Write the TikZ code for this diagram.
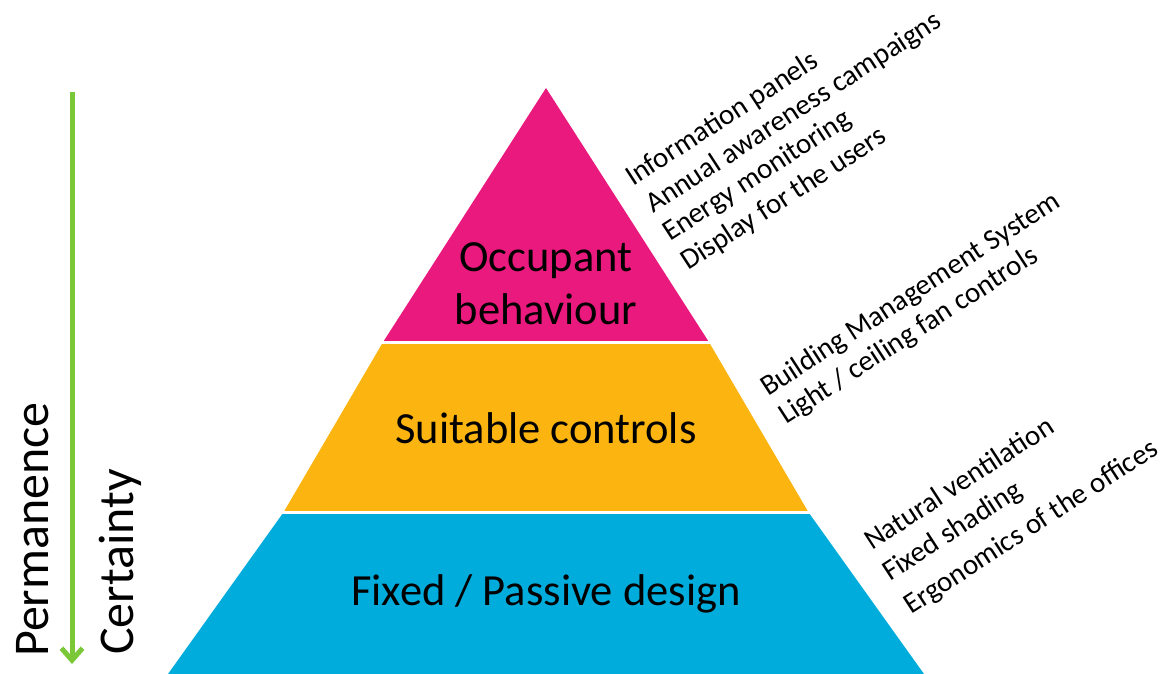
\documentclass[tikz,border=0pt]{standalone}
\usepackage{fontspec}
\setmainfont{Carlito}
\usetikzlibrary{arrows.meta}
\definecolor{pinkc}{RGB}{233,25,125}
\definecolor{yellowc}{RGB}{252,181,16}
\definecolor{bluec}{RGB}{0,172,220}
\definecolor{greenc}{RGB}{122,200,55}
\tikzset{
  big/.style={font=\fontsize{44.5}{53}\selectfont, align=center, inner sep=0pt},
  side/.style={font=\fontsize{50}{60}\selectfont, rotate=90, anchor=base west, inner sep=0pt},
  lbl/.style={font=\fontsize{29}{34}\selectfont, rotate=33, anchor=base west, inner sep=0pt},
  gap/.style={white, line width=3pt}
}
\begin{document}
\begin{tikzpicture}[x=1pt,y=-1pt]
\useasboundingbox (0,0) rectangle (1171,674);
% layers
\fill[bluec] (168,674) -- (924,674) -- (808.6,512.5) -- (283.4,512.5) -- cycle;
\fill[yellowc] (283.4,512.5) -- (808.6,512.5) -- (709.2,342.5) -- (382.8,342.5) -- cycle;
\fill[pinkc] (382.8,342.5) -- (709.2,342.5) -- (546,88) -- cycle;
\draw[gap] (250,342.5) -- (840,342.5);
\draw[gap] (150,512.5) -- (940,512.5);
% layer labels
\node[big] (occ) at (546,284) {Occupant\\behaviour};
\node[big] (ctl) at (546,428) {Suitable controls};
\node[big] (fix) at (546,594) {Fixed / Passive design};
% side
\coordinate (atop) at (72,92);
\coordinate (abot) at (72,664);
\draw[greenc, line width=5pt, -{Straight Barb[width=21pt,length=12pt]}] (atop) -- (abot);
\node[side] (perm) at (48,657) {Permanence};
\node[side] (cert) at (133,655) {Certainty};
% right labels
\node[lbl] (l1) at (633,187) {Information panels};
\node[lbl] (l2) at (653,214) {Annual awareness campaigns};
\node[lbl] (l3) at (670,242) {Energy monitoring};
\node[lbl] (l4) at (688,271) {Display for the users};
\node[lbl] (m1) at (768,397) {Building Management System};
\node[lbl] (m2) at (786,425) {Light / ceiling fan controls};
\node[lbl] (b1) at (872,551) {Natural ventilation};
\node[lbl] (b2) at (890,582) {Fixed shading};
\node[lbl] (b3) at (911,615) {Ergonomics of the offices};
\end{tikzpicture}
\end{document}
